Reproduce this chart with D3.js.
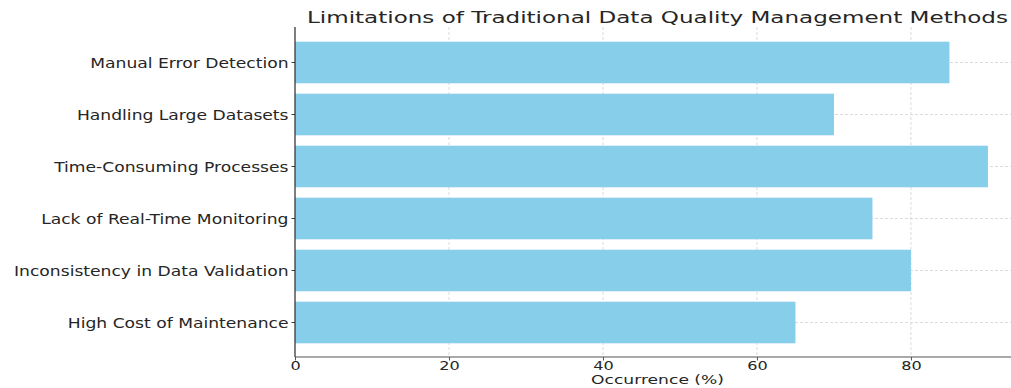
<!DOCTYPE html>
<html><head><meta charset="utf-8">
<script src="https://cdn.jsdelivr.net/npm/d3@7"></script>
<style>body{margin:0;background:#fff}svg{display:block}text{font-family:"DejaVu Sans",sans-serif;fill:#262626}</style>
</head><body><svg id="c" width="1011" height="388"></svg>
<script>
const categories = ["Manual Error Detection","Handling Large Datasets","Time-Consuming Processes","Lack of Real-Time Monitoring","Inconsistency in Data Validation","High Cost of Maintenance"];
const values = [85,70,90,75,80,65];
const xTicks = [0,20,40,60,80];
const title = "Limitations of Traditional Data Quality Management Methods";
const xLabel = "Occurrence (%)";

const svg = d3.select("#c");
const L = 295, R = 1022.6, T = 27, B = 357;
const x = d3.scaleLinear().domain([0, 94.5]).range([L, R]);
const y = d3.scaleBand().domain(categories).range([36.5, 348.5]).paddingInner(0.2).paddingOuter(0.1);

// grid
svg.append("g").selectAll("line").data(xTicks.slice(1)).join("line")
  .attr("x1", d=>x(d)).attr("x2", d=>x(d)).attr("y1", T).attr("y2", B)
  .attr("stroke", "#d2d2d2").attr("stroke-width", 0.8).attr("stroke-dasharray", "3,2");
svg.append("g").selectAll("line").data(categories).join("line")
  .attr("x1", L).attr("x2", R).attr("y1", d=>y(d)+y.bandwidth()/2).attr("y2", d=>y(d)+y.bandwidth()/2)
  .attr("stroke", "#d2d2d2").attr("stroke-width", 0.8).attr("stroke-dasharray", "3,2");

// bars
svg.append("g").selectAll("rect").data(categories).join("rect")
  .attr("x", x(0)).attr("y", d=>y(d)).attr("height", y.bandwidth())
  .attr("width", (d,i)=>x(values[i]) - x(0)).attr("fill", "#87CEEB");

// axes
const xAxis = d3.axisBottom(x).tickValues(xTicks).tickSize(3.5).tickPadding(1);
const gx = svg.append("g").attr("transform", `translate(0,${B})`).call(xAxis);
gx.select(".domain").attr("d", `M${L},0H${R}`).attr("stroke", "#8c8c8c").attr("stroke-width", 1.3);
gx.selectAll(".tick line").attr("stroke", "#555");
gx.selectAll("text").attr("font-size", 11.5).attr("fill", "#262626");

const yAxis = d3.axisLeft(y).tickSize(3.5).tickPadding(3);
const gy = svg.append("g").attr("transform", `translate(${L},0)`).call(yAxis);
gy.select(".domain").attr("d", `M0,${T}V${B}`).attr("stroke", "#3a3a3a").attr("stroke-width", 1.3);
gy.selectAll(".tick line").attr("stroke", "#3a3a3a");
gy.selectAll("text").attr("font-size", 13.5).attr("dy", "0.4em").attr("fill", "#262626");

svg.selectAll("g").attr("font-family", null);

// horizontal stretch of text (the reference is wider than tall)
function stretch(sel, sx){
  sel.each(function(){
    const t = d3.select(this);
    const bb = this.getBBox();
    const a = getComputedStyle(this).textAnchor || "start";
    const ax = a === "end" ? bb.x + bb.width : a === "middle" ? bb.x + bb.width/2 : bb.x;
    t.attr("transform", `translate(${ax},0) scale(${sx},1) translate(${-ax},0)`);
  });
}
stretch(gy.selectAll("text"), 1.27);
stretch(gx.selectAll("text"), 1.4);

svg.append("text").attr("x", 657.5).attr("y", 22.7).attr("text-anchor", "middle")
  .attr("font-size", 15).attr("textLength", 701).attr("lengthAdjust", "spacingAndGlyphs").text(title);
svg.append("text").attr("x", 657.5).attr("y", 384).attr("text-anchor", "middle")
  .attr("font-size", 12).attr("textLength", 133).attr("lengthAdjust", "spacingAndGlyphs").text(xLabel);
</script></body></html>
